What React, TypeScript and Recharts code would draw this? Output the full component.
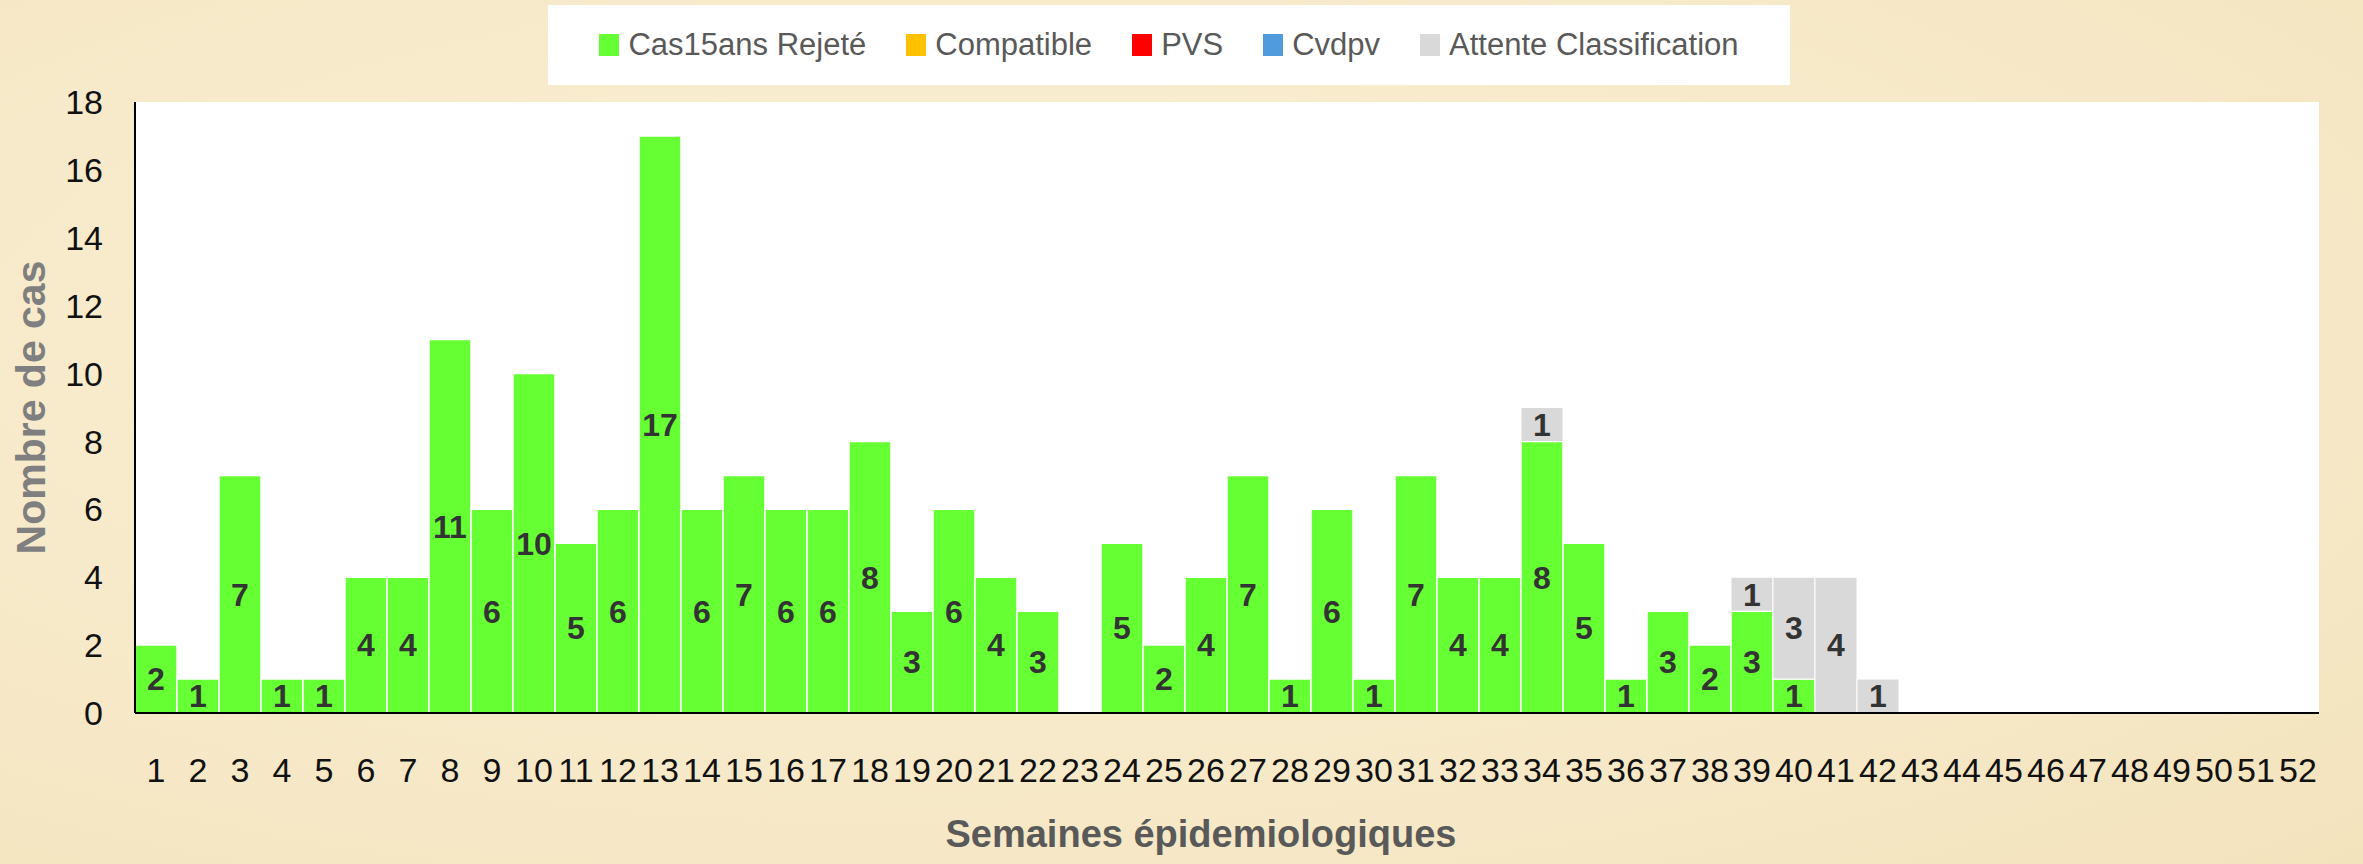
import React from "react";
import {
  BarChart,
  Bar,
  XAxis,
  YAxis,
  CartesianGrid,
  Legend,
  LabelList,
  Label,
} from "recharts";

// semaines épidémiologiques 1..52
const WEEKS = [
  "1", "2", "3", "4", "5", "6", "7", "8", "9", "10",
  "11", "12", "13", "14", "15", "16", "17", "18", "19", "20",
  "21", "22", "23", "24", "25", "26", "27", "28", "29", "30",
  "31", "32", "33", "34", "35", "36", "37", "38", "39", "40",
  "41", "42", "43", "44", "45", "46", "47", "48", "49", "50",
  "51", "52",
];

const REJETE = [
  2, 1, 7, 1, 1, 4, 4, 11, 6, 10,
  5, 6, 17, 6, 7, 6, 6, 8, 3, 6,
  4, 3, 0, 5, 2, 4, 7, 1, 6, 1,
  7, 4, 4, 8, 5, 1, 3, 2, 3, 1,
  0, 0, 0, 0, 0, 0, 0, 0, 0, 0,
  0, 0,
];

const COMPATIBLE = [
  0, 0, 0, 0, 0, 0, 0, 0, 0, 0,
  0, 0, 0, 0, 0, 0, 0, 0, 0, 0,
  0, 0, 0, 0, 0, 0, 0, 0, 0, 0,
  0, 0, 0, 0, 0, 0, 0, 0, 0, 0,
  0, 0, 0, 0, 0, 0, 0, 0, 0, 0,
  0, 0,
];

const PVS = [
  0, 0, 0, 0, 0, 0, 0, 0, 0, 0,
  0, 0, 0, 0, 0, 0, 0, 0, 0, 0,
  0, 0, 0, 0, 0, 0, 0, 0, 0, 0,
  0, 0, 0, 0, 0, 0, 0, 0, 0, 0,
  0, 0, 0, 0, 0, 0, 0, 0, 0, 0,
  0, 0,
];

const CVDPV = [
  0, 0, 0, 0, 0, 0, 0, 0, 0, 0,
  0, 0, 0, 0, 0, 0, 0, 0, 0, 0,
  0, 0, 0, 0, 0, 0, 0, 0, 0, 0,
  0, 0, 0, 0, 0, 0, 0, 0, 0, 0,
  0, 0, 0, 0, 0, 0, 0, 0, 0, 0,
  0, 0,
];

const ATTENTE = [
  0, 0, 0, 0, 0, 0, 0, 0, 0, 0,
  0, 0, 0, 0, 0, 0, 0, 0, 0, 0,
  0, 0, 0, 0, 0, 0, 0, 0, 0, 0,
  0, 0, 0, 1, 0, 0, 0, 0, 1, 3,
  4, 1, 0, 0, 0, 0, 0, 0, 0, 0,
  0, 0,
];

const Y_TICKS = [0, 2, 4, 6, 8, 10, 12, 14, 16, 18];

// ordre de la légende (et de l'empilement)
const SERIES = [
  { key: "rejete", name: "Cas15ans Rejeté", color: "#66ff33" },
  { key: "compatible", name: "Compatible", color: "#ffc000" },
  { key: "pvs", name: "PVS", color: "#ff0000" },
  { key: "cvdpv", name: "Cvdpv", color: "#4f9bdc" },
  { key: "attente", name: "Attente Classification", color: "#d9d9d9" },
];

const data = WEEKS.map((week, i) => ({
  week,
  rejete: REJETE[i],
  compatible: COMPATIBLE[i],
  pvs: PVS[i],
  cvdpv: CVDPV[i],
  attente: ATTENTE[i],
}));

const SANS = '"Liberation Sans", Arial, sans-serif';

const hideZero = (v: any) => (v ? v : "");

const LegendBox = () => (
  <div
    style={{
      width: "100%",
      height: "100%",
      background: "#ffffff",
      display: "flex",
      alignItems: "center",
      justifyContent: "center",
      gap: 40,
      fontFamily: SANS,
      fontSize: 31,
      color: "#595959",
      whiteSpace: "nowrap",
    }}
  >
    {SERIES.map((s) => (
      <div key={s.key} style={{ display: "flex", alignItems: "center" }}>
        <span
          style={{
            display: "inline-block",
            width: 20,
            height: 22,
            background: s.color,
            marginRight: 9,
          }}
        />
        <span>{s.name}</span>
      </div>
    ))}
  </div>
);

export default function App() {
  return (
    <div
      style={{
        position: "absolute",
        top: 0,
        left: 0,
        width: 2363,
        height: 864,
        background: "radial-gradient(ellipse at 40% 40%, #faf0d6 0%, #f6e8c6 70%, #f3e3bd 100%)",
        overflow: "hidden",
      }}
    >
      <BarChart
        width={2363}
        height={864}
        data={data}
        margin={{ top: 102, right: 44, bottom: 0, left: 10 }}
        barCategoryGap={0}
        barGap={0}
      >
        <CartesianGrid horizontal={false} vertical={false} fill="#ffffff" stroke="none" />
        <Legend
          layout="horizontal"
          verticalAlign="middle"
          align="center"
          content={LegendBox}
          wrapperStyle={{ top: 5, left: 548, width: 1242, height: 80 }}
        />
        <XAxis
          dataKey="week"
          interval={0}
          height={151}
          tickLine={false}
          tickMargin={39}
          axisLine={{ stroke: "#000000", strokeWidth: 2 }}
          tick={{ fontSize: 34, fill: "#111111", fontFamily: SANS }}
        >
          <Label
            value="Semaines épidemiologiques"
            position="insideBottom"
            offset={17}
            dx={-26}
            fill="#595959"
            fontSize={38}
            fontWeight="bold"
            fontFamily={SANS}
          />
        </XAxis>
        <YAxis
          width={125}
          domain={[0, 18]}
          ticks={Y_TICKS}
          interval={0}
          tickLine={false}
          tickMargin={26}
          axisLine={{ stroke: "#000000", strokeWidth: 2 }}
          tick={{ fontSize: 34, fill: "#111111", fontFamily: SANS }}
        >
          <Label
            value="Nombre de cas"
            angle={-90}
            position="insideLeft"
            offset={20}
            fill="#7f7f7f"
            fontSize={41}
            fontWeight="bold"
            fontFamily={SANS}
            style={{ textAnchor: "middle" }}
          />
        </YAxis>
        <Bar
          dataKey="rejete"
          name="Cas15ans Rejeté"
          stackId="a"
          fill="#66ff33"
          stroke="#ffffff"
          strokeWidth={1.5}
          isAnimationActive={false}
        >
          <LabelList
            dataKey="rejete"
            position="center"
            formatter={hideZero}
            fill="#333333"
            fontSize={32}
            fontWeight="bold"
            fontFamily={SANS}
          />
        </Bar>
        <Bar dataKey="compatible" name="Compatible" stackId="a" fill="#ffc000" isAnimationActive={false} />
        <Bar dataKey="pvs" name="PVS" stackId="a" fill="#ff0000" isAnimationActive={false} />
        <Bar dataKey="cvdpv" name="Cvdpv" stackId="a" fill="#4f9bdc" isAnimationActive={false} />
        <Bar
          dataKey="attente"
          name="Attente Classification"
          stackId="a"
          fill="#d9d9d9"
          stroke="#ffffff"
          strokeWidth={1}
          isAnimationActive={false}
        >
          <LabelList
            dataKey="attente"
            position="center"
            formatter={hideZero}
            fill="#333333"
            fontSize={32}
            fontWeight="bold"
            fontFamily={SANS}
          />
        </Bar>
      </BarChart>
    </div>
  );
}
